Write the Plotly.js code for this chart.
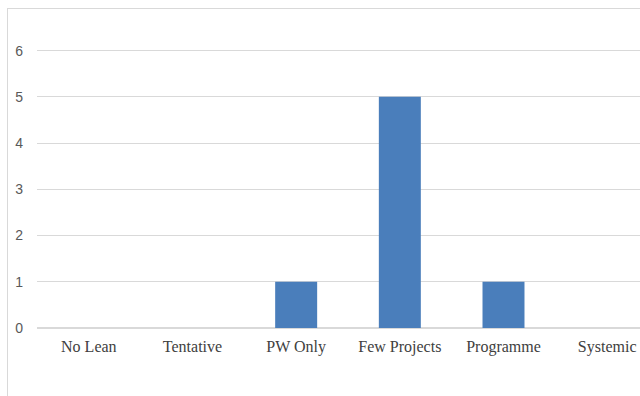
<!DOCTYPE html>
<html>
<head>
<meta charset="utf-8">
<script src="https://cdn.plot.ly/plotly-3.0.1.min.js"></script>
<style>
html,body{margin:0;padding:0;background:#fff;overflow:hidden;width:640px;height:396px;}
#frame{position:absolute;left:7px;top:8px;width:700px;height:400px;border:1px solid #d9d9d9;box-sizing:border-box;}
#chart{position:absolute;left:0;top:0;width:680px;height:396px;}
</style>
</head>
<body>
<div id="frame"></div>
<div id="chart"></div>
<script>
const categories = ["No Lean", "Tentative", "PW Only", "Few Projects", "Programme", "Systemic"];
const values = [0, 0, 1, 5, 1, 0];
const yTicks = [0, 1, 2, 3, 4, 5, 6];

Plotly.newPlot('chart', [{
  type: 'bar',
  x: categories,
  y: values,
  marker: {color: '#4a7ebb'},
  width: 0.405,
  hoverinfo: 'none'
}], {
  width: 680, height: 396,
  margin: {l: 37, r: 21.4, t: 46.4, b: 68, pad: 0},
  paper_bgcolor: 'rgba(0,0,0,0)',
  plot_bgcolor: 'rgba(0,0,0,0)',
  showlegend: false,
  xaxis: {
    type: 'category',
    range: [-0.5, 5.5],
    showgrid: false,
    showline: false,
    zeroline: false,
    ticks: '',
    tickfont: {family: '"Liberation Serif", "Times New Roman", serif', size: 16, color: '#404040'},
    ticklabelstandoff: 7
  },
  yaxis: {
    range: [0, 6.1],
    tickvals: yTicks,
    ticktext: yTicks.map(String),
    showgrid: true,
    gridcolor: '#d9d9d9',
    gridwidth: 1,
    zeroline: true,
    zerolinecolor: '#d9d9d9',
    zerolinewidth: 1.5,
    showline: false,
    ticks: '',
    tickfont: {family: '"Liberation Sans", Arial, sans-serif', size: 14, color: '#595959'},
    ticklabelstandoff: 13
  }
}, {staticPlot: true});
</script>
</body>
</html>
